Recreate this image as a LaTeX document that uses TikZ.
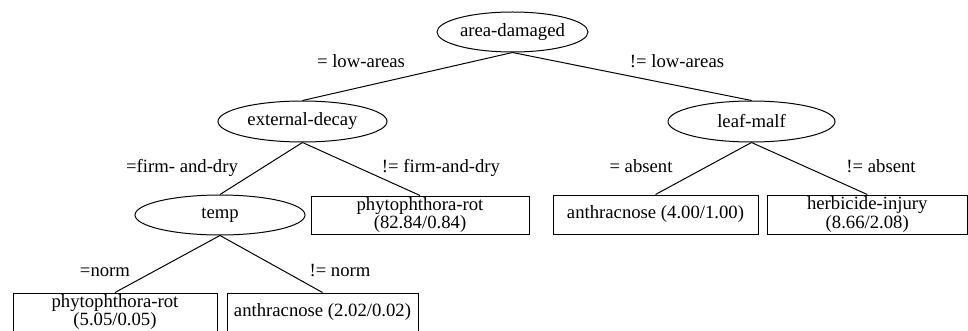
\documentclass[tikz,border=0pt]{standalone}
\usepackage{fontspec}
\setmainfont{Liberation Serif}
\usetikzlibrary{shapes.geometric}
\begin{document}
\begin{tikzpicture}[x=1pt,y=-1pt,
  every node/.style={font=\fontsize{18.7}{17}\selectfont},
  test/.style={draw,ellipse,line width=1pt,inner sep=0pt},
  leafbox/.style={draw,rectangle,line width=1pt,inner sep=0pt,align=center},
  branch/.style={line width=1pt},
  cond/.style={anchor=base,inner sep=0pt}]
\useasboundingbox (0,0) rectangle (968,331);
\clip (0,0) rectangle (968,331);

% attribute tests
\node[test,minimum width=151pt,minimum height=40pt] (root) at (512.5,32) {area-damaged};
\node[test,minimum width=169pt,minimum height=41pt] (ext) at (302.5,121.5) {external-decay};
\node[test,minimum width=167pt,minimum height=41pt] (leaf) at (751.5,121.5) {leaf-malf};
\node[test,minimum width=170pt,minimum height=40pt] (temp) at (220,215) {temp};

% leaves
\node[leafbox,minimum width=218pt,minimum height=38pt] (phyA) at (420,215) {phytophthora-rot\\(82.84/0.84)};
\node[leafbox,minimum width=205pt,minimum height=39pt] (antA) at (655.5,214.5) {anthracnose (4.00/1.00)};
\node[leafbox,minimum width=200.5pt,minimum height=39pt] (herb) at (867.25,214.5) {herbicide-injury\\(8.66/2.08)};
\node[leafbox,minimum width=204pt,minimum height=38.5pt] (phyB) at (115,312.25) {phytophthora-rot\\(5.05/0.05)};
\node[leafbox,minimum width=191pt,minimum height=38.5pt] (antB) at (322.5,312.25) {anthracnose (2.02/0.02)};

% branches
\draw[branch] (root.south) -- (ext.north);
\draw[branch] (root.south) -- (leaf.north);
\draw[branch] (ext.south) -- (temp.north);
\draw[branch] (ext.south) -- (phyA.north);
\draw[branch] (leaf.south) -- (antA.north);
\draw[branch] (leaf.south) -- (herb.north);
\draw[branch] (temp.south) -- (phyB.north);
\draw[branch] (temp.south) -- (antB.north);

% branch conditions
\node[cond] (c1) at (361,68) {= low-areas};
\node[cond] (c2) at (677,68) {!= low-areas};
\node[cond] (c3) at (182,172) {=firm- and-dry};
\node[cond] (c4) at (441,172) {!= firm-and-dry};
\node[cond] (c5) at (641,172) {= absent};
\node[cond] (c6) at (881,172) {!= absent};
\node[cond] (c7) at (105,276) {=norm};
\node[cond] (c8) at (340,276) {!= norm};
\end{tikzpicture}
\end{document}
